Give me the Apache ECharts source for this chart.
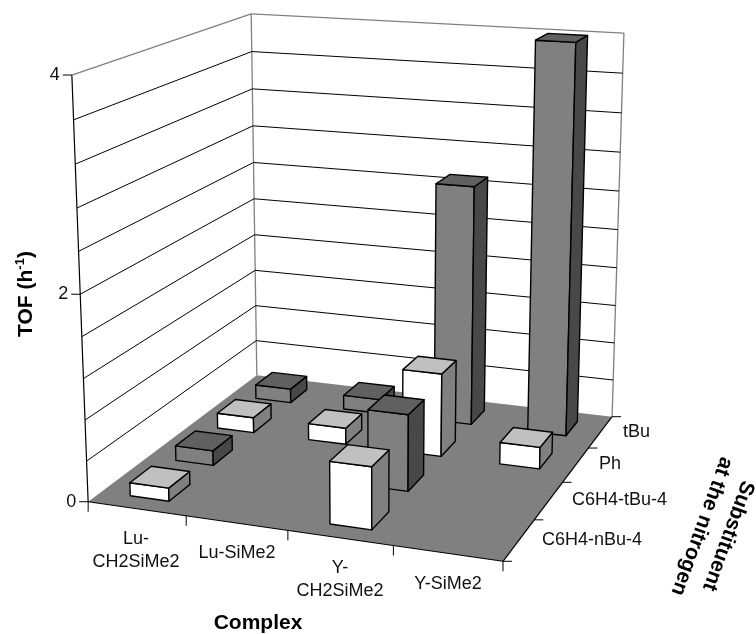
<!DOCTYPE html>
<html>
<head>
<meta charset="utf-8"/>
<title>TOF</title>
<script src="https://cdn.jsdelivr.net/npm/echarts@6/dist/echarts.min.js"></script>
<style>html,body{margin:0;background:#fff}</style>
</head>
<body>
<div id="main" style="width:756px;height:634px;"></div>
<script type="text/javascript">
// data
var complexes = ['Lu-\nCH2SiMe2', 'Lu-SiMe2', 'Y-\nCH2SiMe2', 'Y-SiMe2'];
var substituents = ['C6H4-nBu-4', 'C6H4-tBu-4', 'Ph', 'tBu'];
var nBu4 = [0.13, null, 0.6, null];
var tBu4 = [0.15, null, 0.76, null];
var ph = [0.16, 0.17, 0.85, 0.22];
var tBu = [0.15, 0.15, 2.5, 4.0];
var gridValues = [0.4, 0.8, 1.2, 1.6, 2, 2.4, 2.8, 3.2, 3.6, 4];
var valueTicks = [0, 2, 4];

// pixel anchors of the 3D box: [u, v, h, x, y]
var anchors = [
    [0, 0, 0, 88, 502], [1, 0, 0, 503, 561], [1, 1, 0, 612, 417], [0, 1, 0, 257, 375],
    [0, 0, 1, 72, 75], [0, 1, 1, 251, 14], [1, 1, 1, 624, 33]
];

// fit a projective camera to the anchors (least squares, 11 unknowns)
function fitCamera(pts) {
    var n = 11, A = [], i, j, k;
    for (i = 0; i < n; i++) { A.push([]); for (j = 0; j <= n; j++) A[i].push(0); }
    function add(row, rhs) {
        for (var r = 0; r < n; r++) {
            for (var c = 0; c < n; c++) A[r][c] += row[r] * row[c];
            A[r][n] += row[r] * rhs;
        }
    }
    pts.forEach(function (p) {
        add([1, p[0], p[1], p[2], 0, 0, 0, 0, -p[3] * p[0], -p[3] * p[1], -p[3] * p[2]], p[3]);
        add([0, 0, 0, 0, 1, p[0], p[1], p[2], -p[4] * p[0], -p[4] * p[1], -p[4] * p[2]], p[4]);
    });
    for (i = 0; i < n; i++) {
        var best = i;
        for (k = i + 1; k < n; k++) if (Math.abs(A[k][i]) > Math.abs(A[best][i])) best = k;
        var t = A[i]; A[i] = A[best]; A[best] = t;
        for (k = 0; k < n; k++) {
            if (k === i) continue;
            var f = A[k][i] / A[i][i];
            for (j = i; j <= n; j++) A[k][j] -= f * A[i][j];
        }
    }
    return A.map(function (r, idx) { return r[n] / r[idx]; });
}
var cam = fitCamera(anchors);
function project(u, v, h) {
    var w = 1 + cam[8] * u + cam[9] * v + cam[10] * h;
    return [
        (cam[0] + cam[1] * u + cam[2] * v + cam[3] * h) / w,
        (cam[4] + cam[5] * u + cam[6] * v + cam[7] * h) / w
    ];
}

var GRID = 500;        // hidden grid, the axes only normalise the values
var CELL = 0.25;
var BAR_W = 0.4;
var BAR_D = 0.46;
var FONT = '"Liberation Sans", Arial, sans-serif';
var whiteFaces = { front: '#ffffff', side: '#808080', top: '#c0c0c0' };
var darkFaces = { front: '#808080', side: '#484848', top: '#606060' };

function face(points, fill) {
    return {
        type: 'polygon',
        shape: { points: points },
        style: { fill: fill, stroke: '#000', lineWidth: 1.4, lineJoin: 'round' }
    };
}

function barItem(depthIndex, faces) {
    return function (params, api) {
        var c = api.coord([api.value(0), api.value(1)]);
        var u = c[0] / GRID, h = (GRID - c[1]) / GRID;
        var v = (depthIndex + 0.5) * CELL;
        var u0 = u - BAR_W * CELL / 2, u1 = u + BAR_W * CELL / 2;
        var v0 = v - BAR_D * CELL / 2, v1 = v + BAR_D * CELL / 2;
        return {
            type: 'group',
            children: [
                face([project(u0, v0, 0), project(u1, v0, 0), project(u1, v0, h), project(u0, v0, h)], faces.front),
                face([project(u1, v0, 0), project(u1, v1, 0), project(u1, v1, h), project(u1, v0, h)], faces.side),
                face([project(u0, v0, h), project(u1, v0, h), project(u1, v1, h), project(u0, v1, h)], faces.top)
            ]
        };
    };
}

function barSeries(name, values, depthIndex, faces) {
    var data = [];
    values.forEach(function (val, i) {
        if (val !== null) data.push([i, val]);
    });
    return {
        type: 'custom',
        name: name,
        data: data,
        encode: { x: 0, y: 1 },
        renderItem: barItem(depthIndex, faces),
        silent: true
    };
}

function seg(a, b, color, width) {
    return {
        type: 'line',
        shape: { x1: a[0], y1: a[1], x2: b[0], y2: b[1] },
        style: { stroke: color, lineWidth: width }
    };
}

// floor, wall edges, axis ticks
function frameItem() {
    var kids = [];
    kids.push({
        type: 'polygon',
        shape: { points: [project(0, 0, 0), project(1, 0, 0), project(1, 1, 0), project(0, 1, 0)] },
        style: { fill: '#808080' }
    });
    kids.push(seg(project(0, 1, 0), project(0, 1, 1), '#808080', 1.3));
    kids.push(seg(project(1, 1, 0), project(1, 1, 1), '#808080', 1.3));
    kids.push(seg(project(0, 0, 0), project(0, 0, 1), '#000', 1.2));
    kids.push(seg(project(0, 0, 0), project(1, 0, 0), '#000', 1.2));
    kids.push(seg(project(1, 0, 0), project(1, 1, 0), '#000', 1.2));
    var i, p;
    for (i = 0; i <= complexes.length; i++) {
        p = project(i / complexes.length, 0, 0);
        kids.push(seg(p, [p[0], p[1] + 10], '#000', 1));
    }
    for (i = 0; i <= substituents.length; i++) {
        p = project(1, i / substituents.length, 0);
        kids.push(seg(p, [p[0] + 9, p[1]], '#000', 1));
    }
    return { type: 'group', children: kids };
}

function gridItem(params, api) {
    var c = api.coord([0, api.value(1)]);
    var h = (GRID - c[1]) / GRID;
    var color = h >= 1 ? '#808080' : '#000';
    var width = h >= 1 ? 1.3 : 1;
    var back = project(0, 1, h);
    return {
        type: 'group',
        children: [
            seg(project(0, 0, h), back, color, width),
            seg(back, project(1, 1, h), color, width)
        ]
    };
}

function valueTickItem(params, api) {
    var c = api.coord([0, api.value(1)]);
    var p = project(0, 0, (GRID - c[1]) / GRID);
    return {
        type: 'group',
        children: [
            seg(p, [p[0] - 9, p[1]], '#000', 1),
            {
                type: 'text',
                style: {
                    x: p[0] - 12, y: p[1], text: String(api.value(1)),
                    font: '18px ' + FONT, fill: '#111', align: 'right', verticalAlign: 'middle'
                }
            }
        ]
    };
}

function label(text, x, y, align) {
    return {
        type: 'text', x: x, y: y,
        style: {
            text: text, font: '18px ' + FONT, fill: '#111', lineHeight: 23,
            align: align || 'center', verticalAlign: 'middle'
        }
    };
}

function boldLabel(text, x, y, rotationDeg, lineHeight) {
    return {
        type: 'text', x: x, y: y, rotation: (rotationDeg || 0) * Math.PI / 180,
        style: {
            text: text, font: 'bold 21px ' + FONT, fill: '#000', lineHeight: lineHeight || 24,
            align: 'center', verticalAlign: 'middle'
        }
    };
}

var myChart = echarts.init(document.getElementById('main'));
var option = {
    animation: false,
    backgroundColor: '#fff',
    grid: { left: 0, top: 0, width: GRID, height: GRID, show: false },
    xAxis: { type: 'category', data: complexes, show: false },
    yAxis: { type: 'value', min: 0, max: 4, interval: 0.4, show: false },
    graphic: [
        label(complexes[0], 136, 551),
        label(complexes[1], 237, 553),
        label(complexes[2], 340, 580),
        label(complexes[3], 448, 584),
        label(substituents[3], 623, 432, 'left'),
        label(substituents[2], 599, 464, 'left'),
        label(substituents[1], 572, 500, 'left'),
        label(substituents[0], 542, 540, 'left'),
        boldLabel('Complex', 258, 623),
        boldLabel('Substituent\nat the nitrogen', 715, 531, -110, 28),
        {
            type: 'text', x: 26, y: 294, rotation: Math.PI / 2,
            style: {
                text: '{b|TOF (h}{s|-1}{b|)}', align: 'center', verticalAlign: 'middle',
                rich: {
                    b: { font: 'bold 21px ' + FONT, fill: '#000', lineHeight: 24 },
                    s: { font: 'bold 13px ' + FONT, fill: '#000', lineHeight: 24, verticalAlign: 'top' }
                }
            }
        }
    ],
    series: [
        { type: 'custom', name: 'frame', data: [[0, 0]], encode: { x: 0, y: 1 }, renderItem: frameItem, silent: true },
        {
            type: 'custom', name: 'gridlines', silent: true, encode: { x: 0, y: 1 },
            data: gridValues.map(function (g) { return [0, g]; }), renderItem: gridItem
        },
        {
            type: 'custom', name: 'value ticks', silent: true, encode: { x: 0, y: 1 },
            data: valueTicks.map(function (g) { return [0, g]; }), renderItem: valueTickItem
        },
        barSeries(substituents[3], tBu, 3, darkFaces),
        barSeries(substituents[2], ph, 2, whiteFaces),
        barSeries(substituents[1], tBu4, 1, darkFaces),
        barSeries(substituents[0], nBu4, 0, whiteFaces)
    ]
};
myChart.setOption(option);
</script>
</body>
</html>
